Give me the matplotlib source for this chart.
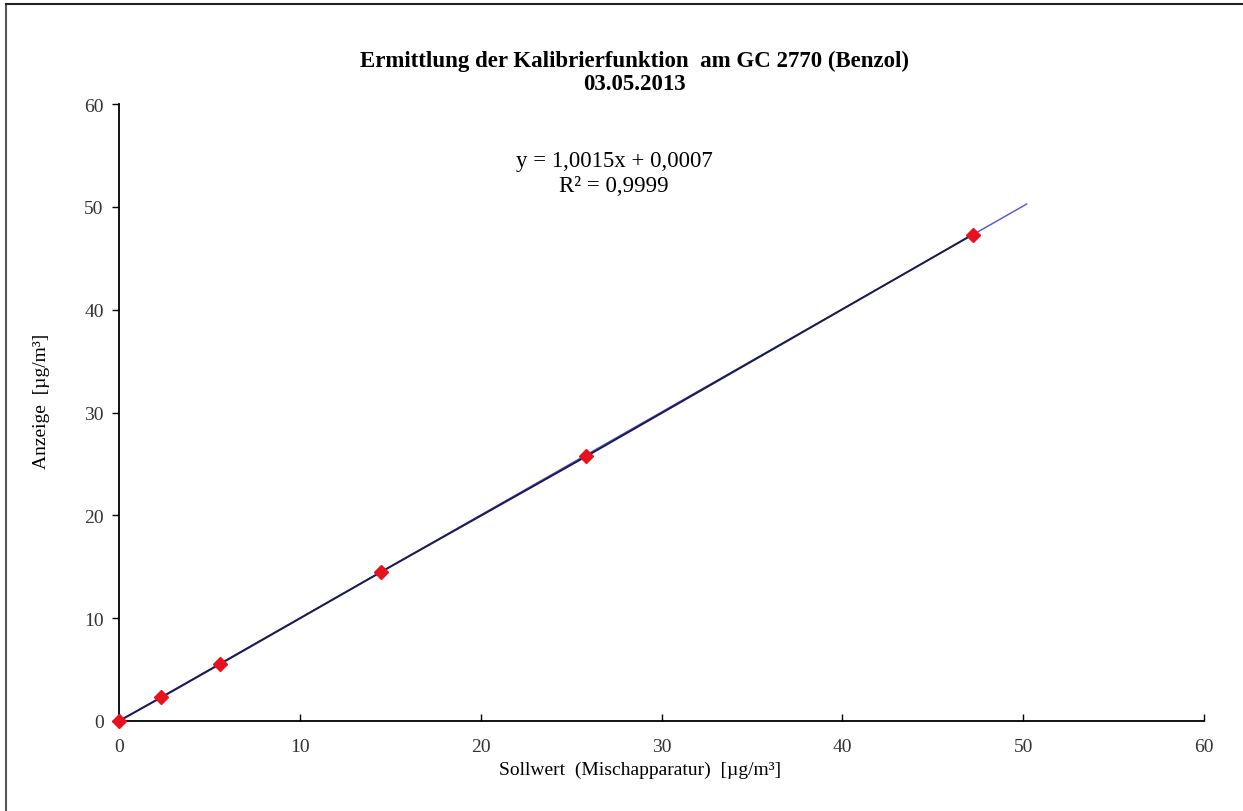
import numpy as np
import matplotlib.pyplot as plt

# Messwerte
sollwert = [0.0, 2.35, 5.6, 14.5, 25.85, 47.2]
anzeige = [0.0, 2.3, 5.55, 14.5, 25.75, 47.3]

slope = 1.0015
intercept = 0.0007
trend_x = [0.0, 50.2]

plt.rcParams['font.family'] = ['Liberation Serif', 'DejaVu Serif']

fig = plt.figure(figsize=(12.43, 8.12), dpi=100)
ax = fig.add_axes([119 / 1243, 90 / 812, 1085 / 1243, 617 / 812])

# Trendlinie
tx = np.array(trend_x)
ax.plot(tx, slope * tx + intercept, color='#5050e0', lw=1.0, zorder=2)
# Messreihe
ax.plot(sollwert, anzeige, color='#1c1c4a', lw=1.4, zorder=3)
ax.plot(sollwert, anzeige, ls='none', marker='D', ms=7, color='#e8121e',
        mec='#e8121e', zorder=4, clip_on=False)

ax.set_xlim(0, 60)
ax.set_ylim(0, 60)
ax.set_xticks(range(0, 61, 10))
ax.set_yticks(range(0, 61, 10))
for s in ['top', 'right']:
    ax.spines[s].set_visible(False)
for s in ['left', 'bottom']:
    ax.spines[s].set_linewidth(1.3)
ax.tick_params(axis='x', direction='in', length=5, width=1, labelsize=14,
               labelcolor='#333333', pad=12)
ax.tick_params(axis='y', direction='out', length=5, width=1, labelsize=14,
               labelcolor='#333333', pad=6)

ax.set_xlabel('Sollwert  (Mischapparatur)  [µg/m³]', fontsize=14)
ax.xaxis.set_label_coords(0.48, -0.065)
ax.set_ylabel('Anzeige  [µg/m³]', fontsize=14)
ax.yaxis.set_label_coords(-0.064, 0.52)

fig.text(634 / 1243, 1 - 61 / 812, 'Ermittlung der Kalibrierfunktion  am GC 2770 (Benzol)',
         ha='center', va='center', fontsize=16.5, fontweight='bold')
fig.text(634 / 1243, 1 - 85 / 812, '03.05.2013',
         ha='center', va='center', fontsize=16.5, fontweight='bold')

fig.text(614 / 1243, 1 - 162 / 812, 'y = 1,0015x + 0,0007',
         ha='center', va='center', fontsize=16.5)
fig.text(614 / 1243, 1 - 187 / 812, 'R² = 0,9999',
         ha='center', va='center', fontsize=16.5)

# Rahmen
fig.add_artist(plt.Line2D([6 / 1243, 6 / 1243], [0, 1 - 5 / 812],
                          transform=fig.transFigure, color='#555555', lw=1.5))
fig.add_artist(plt.Line2D([6 / 1243, 1], [1 - 5 / 812, 1 - 5 / 812],
                          transform=fig.transFigure, color='#222222', lw=1.5))

fig.savefig('out.png', dpi=100)
